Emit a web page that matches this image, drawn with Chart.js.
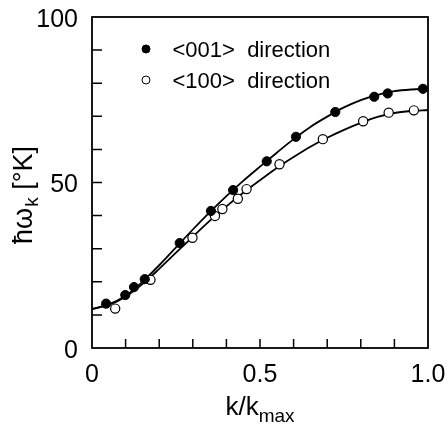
<!DOCTYPE html>
<html lang="en">
<head>
<meta charset="UTF-8">
<title>Phonon dispersion</title>
<script src="https://cdn.jsdelivr.net/npm/chart.js"></script>
<style>
  html, body { margin: 0; padding: 0; background: #fff; }
  canvas { display: block; }
</style>
</head>
<body>
<canvas id="dispersionChart" width="448" height="425"></canvas>
<script>
// measured points (k/k_max, energy in K)
const k001 = [0.042, 0.099, 0.125, 0.157, 0.261, 0.354, 0.420, 0.520, 0.607, 0.724, 0.840, 0.880, 0.985];
const e001 = [13.4, 16.0, 18.4, 20.8, 31.7, 41.4, 47.7, 56.4, 63.8, 71.3, 75.9, 76.9, 78.3];
const k100 = [0.069, 0.174, 0.299, 0.366, 0.388, 0.434, 0.460, 0.558, 0.687, 0.807, 0.883, 0.958];
const e100 = [11.9, 20.6, 33.3, 39.9, 42.0, 45.1, 48.0, 55.5, 63.1, 68.5, 71.1, 71.8];

// fitted curves
const kCurve = [0, 0.05, 0.1, 0.15, 0.2, 0.25, 0.3, 0.35, 0.4, 0.45, 0.5, 0.55, 0.6, 0.65, 0.7, 0.75, 0.8, 0.85, 0.9, 0.95, 1.0];
const eCurve001 = [11.8, 13.2, 15.8, 20.0, 25.0, 30.4, 35.8, 41.0, 45.9, 50.5, 54.8, 59.0, 63.1, 66.8, 69.9, 72.7, 74.9, 76.5, 77.6, 78.1, 78.3];
const eCurve100 = [11.8, 13.0, 15.5, 19.3, 23.9, 28.8, 33.6, 38.4, 42.8, 46.9, 50.7, 54.4, 57.7, 60.8, 63.5, 65.9, 68.0, 69.8, 71.0, 71.6, 71.9];

const xLabelValues = [0, 0.5, 1.0];
const xLabelText = ['0', '0.5', '1.0'];
const yLabelValues = [0, 50, 100];

const FONT = '"Liberation Sans", Arial, Helvetica, sans-serif';
Chart.defaults.font.family = FONT;
Chart.defaults.color = '#000';

function pairs(xs, ys) {
    return xs.map((x, i) => ({ x: x, y: ys[i] }));
}

// frame, inward tick marks, legend and axis titles
const decorations = {
    id: 'decorations',
    afterDraw(chart) {
        const ctx = chart.ctx;
        const area = chart.chartArea;
        const xs = chart.scales.x;
        const ys = chart.scales.y;
        ctx.save();
        ctx.strokeStyle = '#000';
        ctx.lineWidth = 1.8;
        ctx.strokeRect(area.left, area.top, area.right - area.left, area.bottom - area.top);

        ctx.lineWidth = 1.5;
        ctx.beginPath();
        xs.ticks.forEach(t => {
            if (t.value <= xs.min + 1e-6 || t.value >= xs.max - 1e-6) return;
            const px = xs.getPixelForValue(t.value);
            ctx.moveTo(px, area.bottom);
            ctx.lineTo(px, area.bottom - 9);
        });
        ys.ticks.forEach(t => {
            if (t.value <= ys.min || t.value >= ys.max) return;
            const py = ys.getPixelForValue(t.value);
            ctx.moveTo(area.left, py);
            ctx.lineTo(area.left + 10, py);
        });
        ctx.stroke();

        // legend
        const legendItems = chart.data.datasets.filter(d => d.inLegend);
        legendItems.forEach((d, i) => {
            const cx = area.left + 54;
            const cy = area.top + 32 + i * 31;
            ctx.beginPath();
            ctx.arc(cx, cy, 4, 0, Math.PI * 2);
            ctx.fillStyle = d.backgroundColor;
            ctx.fill();
            ctx.lineWidth = 1;
            ctx.strokeStyle = '#000';
            ctx.stroke();
            ctx.fillStyle = '#000';
            ctx.font = '22px ' + FONT;
            ctx.textBaseline = 'alphabetic';
            ctx.textAlign = 'left';
            ctx.fillText(d.label, area.left + 80.5, cy + 8);
        });

        // x title: k/k_max
        ctx.fillStyle = '#000';
        ctx.textBaseline = 'alphabetic';
        ctx.textAlign = 'left';
        const main = 'k/k';
        ctx.font = '26px ' + FONT;
        const wMain = ctx.measureText(main).width;
        ctx.font = '19px ' + FONT;
        const wSub = ctx.measureText('max').width;
        const x0 = (area.left + area.right) / 2 - (wMain + wSub) / 2;
        ctx.font = '26px ' + FONT;
        ctx.fillText(main, x0, 415);
        ctx.font = '19px ' + FONT;
        ctx.fillText('max', x0 + wMain, 422);

        // y title: ħω_k [°K]
        ctx.translate(32, 195);
        ctx.rotate(-Math.PI / 2);
        ctx.font = '27px ' + FONT;
        const a = '\u0127\u03C9';
        const wa = ctx.measureText(a).width;
        ctx.font = '19px ' + FONT;
        const wk = ctx.measureText('k').width;
        ctx.font = '27px ' + FONT;
        const b = ' [\u00B0K]';
        const wb = ctx.measureText(b).width;
        let tx = -(wa + wk + wb + 1) / 2;
        ctx.fillText(a, tx, 0);
        tx += wa;
        ctx.font = '19px ' + FONT;
        ctx.fillText('k', tx + 1, 6);
        tx += wk + 1;
        ctx.font = '27px ' + FONT;
        ctx.fillText(b, tx, 0);
        ctx.restore();
    }
};

const ctx = document.getElementById('dispersionChart').getContext('2d');
const chart = new Chart(ctx, {
    type: 'scatter',
    data: {
        datasets: [
            {
                label: '<001>  direction',
                inLegend: true,
                data: pairs(k001, e001),
                backgroundColor: '#000',
                borderColor: '#000',
                borderWidth: 1,
                pointRadius: 4.6,
                order: 0
            },
            {
                label: '<100>  direction',
                inLegend: true,
                data: pairs(k100, e100),
                backgroundColor: '#fff',
                borderColor: '#000',
                borderWidth: 1.2,
                pointRadius: 4.6,
                order: 1
            },
            {
                label: 'fit <001>',
                type: 'line',
                data: pairs(kCurve, eCurve001),
                borderColor: '#000',
                borderWidth: 1.8,
                pointRadius: 0,
                fill: false,
                cubicInterpolationMode: 'monotone',
                order: 2
            },
            {
                label: 'fit <100>',
                type: 'line',
                data: pairs(kCurve, eCurve100),
                borderColor: '#000',
                borderWidth: 1.8,
                pointRadius: 0,
                fill: false,
                cubicInterpolationMode: 'monotone',
                order: 3
            }
        ]
    },
    options: {
        responsive: false,
        animation: false,
        layout: { padding: { top: 17, right: 20, left: 0, bottom: 0 } },
        plugins: {
            legend: { display: false },
            tooltip: { enabled: false }
        },
        scales: {
            x: {
                type: 'linear',
                min: 0,
                max: 1,
                grid: { display: false, drawTicks: false },
                border: { display: false },
                ticks: {
                    stepSize: 0.1,
                    autoSkip: false,
                    maxRotation: 0,
                    padding: 12,
                    font: { size: 25 },
                    color: '#000',
                    callback: v => {
                        const i = xLabelValues.findIndex(t => Math.abs(t - v) < 1e-6);
                        return i >= 0 ? xLabelText[i] : '';
                    }
                },
                afterFit: s => {
                    s.height = 77;
                    s.paddingLeft = 0;
                    s.paddingRight = 0;
                }
            },
            y: {
                type: 'linear',
                min: 0,
                max: 100,
                grid: { display: false, drawTicks: false },
                border: { display: false },
                ticks: {
                    stepSize: 10,
                    autoSkip: false,
                    padding: 14,
                    labelOffset: 3,
                    font: { size: 25 },
                    color: '#000',
                    callback: v => yLabelValues.includes(v) ? String(v) : ''
                },
                afterFit: s => {
                    s.width = 92;
                    s.paddingTop = 0;
                    s.paddingBottom = 0;
                }
            }
        }
    },
    plugins: [decorations]
});
</script>
</body>
</html>
